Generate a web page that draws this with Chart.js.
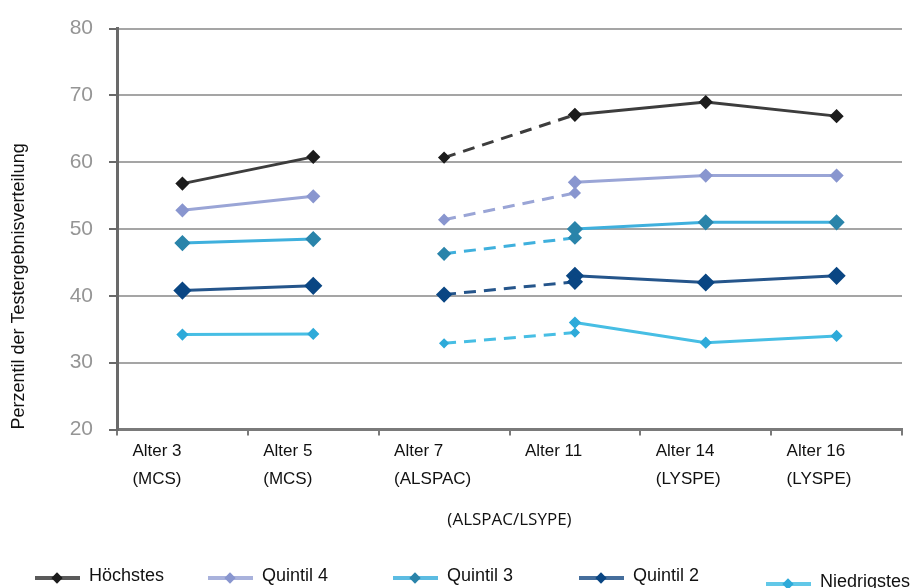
<!DOCTYPE html>
<html>
<head>
<meta charset="utf-8">
<script src="https://cdn.jsdelivr.net/npm/chart.js@4.4.1/dist/chart.umd.min.js"></script>
<style>
  body { margin: 0; background: #fff; }
  #wrap { position: relative; width: 912px; height: 588px; }
  #legend { position: absolute; left: 0; top: 0; width: 912px; height: 588px; pointer-events: none;
            font-family: "Liberation Sans", Arial, sans-serif; font-size: 18px; color: #111; }
  .item { position: absolute; display: flex; align-items: center; height: 22px; }
  .mark { position: relative; width: 45px; height: 14px; margin-right: 9px; top: 3px; }
  .mark .ln { position: absolute; left: 0; right: 0; top: 5px; height: 4px; opacity: 0.85; }
  .mark .dm { position: absolute; left: 18px; top: 3px; width: 8px; height: 8px; transform: rotate(45deg); }
</style>
</head>
<body>
<div id="wrap">
  <canvas id="chart"></canvas>
  <div id="legend"></div>
</div>
<script>
// categories (multi-line tick labels)
const categories = [
  ["Alter 3", "(MCS)"],
  ["Alter 5", "(MCS)"],
  ["Alter 7", "(ALSPAC)"],
  ["Alter 11"],
  ["Alter 14", "(LYSPE)"],
  ["Alter 16", "(LYSPE)"]
];
const groups = ["Höchstes", "Quintil 4", "Quintil 3", "Quintil 2", "Niedrigstes"];

// values per study, one row per group (same order as groups)
const mcsValues = [[56.8, 60.8], [52.8, 54.9], [47.9, 48.5], [40.8, 41.5], [34.2, 34.3]];       // Alter 3, 5
const alspacValues = [[60.7, 67.1], [51.4, 55.4], [46.3, 48.7], [40.2, 42.1], [32.9, 34.5]];    // Alter 7, 11
const lsypeValues = [[67.1, 69.0, 66.9], [57.0, 58.0, 58.0], [50.0, 51.0, 51.0], [43.0, 42.0, 43.0], [36.0, 33.0, 34.0]]; // Alter 11, 14, 16
const yTicks = [20, 30, 40, 50, 60, 70, 80];

const yTitle = "Perzentil der Testergebnisverteilung";
const xTitle = "(ALSPAC/LSYPE)";

const lineColors = ["#3d3d3d", "#9aa5d6", "#3fb0dd", "#25558b", "#47bee4"];
const pointColors = ["#1c1c1c", "#8996cf", "#2a84aa", "#0a4683", "#2eaad9"];
const pointSizes = [5, 5, 6, 7, 4];

function place(values, start) {
  return categories.map((c, i) => (i >= start && i < start + values.length ? values[i - start] : null));
}

const datasets = [];
groups.forEach((name, g) => {
  const base = {
    label: name,
    borderColor: lineColors[g],
    backgroundColor: pointColors[g],
    pointBackgroundColor: pointColors[g],
    pointBorderColor: pointColors[g],
    pointStyle: "rectRot",
    pointRadius: pointSizes[g],
    borderWidth: 3,
    spanGaps: false
  };
  datasets.push({ ...base, data: place(mcsValues[g], 0) });
  datasets.push({ ...base, data: place(alspacValues[g], 2), borderDash: [12, 8], pointRadius: pointSizes[g] - 1 });
  datasets.push({ ...base, data: place(lsypeValues[g], 3) });
});

new Chart(document.getElementById("chart"), {
  type: "line",
  data: { labels: categories, datasets },
  options: {
    responsive: true,
    maintainAspectRatio: false,
    animation: false,
    layout: { padding: { left: 8, right: 8, top: 27, bottom: 50 } },
    plugins: { legend: { display: false }, tooltip: { enabled: false } },
    scales: {
      x: {
        offset: true,
        grid: { offset: true, drawOnChartArea: false, tickLength: 6, color: "#7a7a7a", lineWidth: 2 },
        border: { color: "#7a7a7a", width: 3 },
        ticks: {
          align: "start", labelOffset: -50, padding: 2, autoSkip: false, maxRotation: 0,
          color: "#111", font: { family: "Liberation Sans", size: 17, lineHeight: 1.65 }
        },
        title: {
          display: true, text: xTitle, color: "#111",
          font: { family: "Open Sans", size: 17 }, padding: { top: 14, bottom: 8 }
        }
      },
      y: {
        min: 20,
        max: 80,
        afterFit: s => { s.width = 109; },
        afterBuildTicks: s => { s.ticks = yTicks.map(v => ({ value: v })); },
        grid: { color: "#a5a5a5", lineWidth: 2, tickLength: 8, tickColor: "#6a6a6a" },
        border: { color: "#6a6a6a", width: 3 },
        ticks: { padding: 16, color: "#959595", font: { family: "Liberation Sans", size: 21 } },
        title: {
          display: true, text: yTitle, align: "start", color: "#111",
          font: { family: "Liberation Sans", size: 18 }, padding: 0
        }
      }
    }
  }
});

// legend below the chart
const legendLeft = [35, 208, 393, 579, 766];
const legendTop = [564, 564, 564, 564, 570];
const legend = document.getElementById("legend");
groups.forEach((name, g) => {
  const item = document.createElement("div");
  item.className = "item";
  item.style.left = legendLeft[g] + "px";
  item.style.top = legendTop[g] + "px";
  item.innerHTML = '<span class="mark"><span class="ln" style="background:' + lineColors[g] +
    '"></span><span class="dm" style="background:' + pointColors[g] + '"></span></span>';
  const txt = document.createElement("span");
  txt.textContent = name;
  item.appendChild(txt);
  legend.appendChild(item);
});
</script>
</body>
</html>
